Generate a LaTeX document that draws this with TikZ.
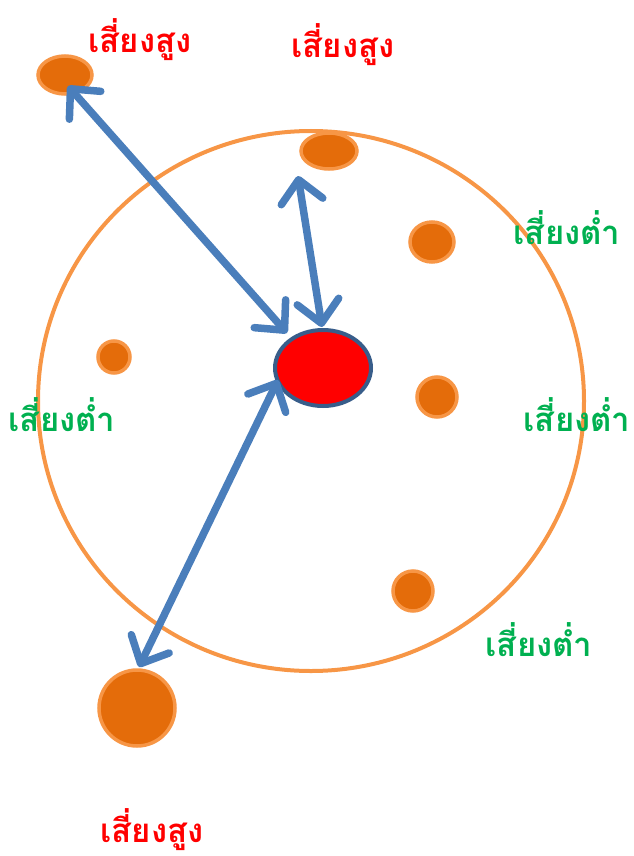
\documentclass[tikz,border=0pt]{standalone}
\usepackage{fontspec}
\newfontfamily\thaifont[Script=Thai]{Loma}
\usetikzlibrary{arrows.meta}
\definecolor{orfill}{HTML}{E46C0A}
\definecolor{orline}{HTML}{F79646}
\definecolor{arblue}{HTML}{4A7EBB}
\definecolor{rdline}{HTML}{385D8A}
\definecolor{txtred}{HTML}{FF0000}
\definecolor{txtgreen}{HTML}{00B050}
\tikzset{
  dot/.style={ellipse, draw=orline, fill=orfill, line width=3.5pt, inner sep=0pt},
  link/.style={draw=arblue, line width=7.5pt, line cap=round,
    {Straight Barb[length=22pt,width=42pt,line cap=round,round]}-{Straight Barb[length=22pt,width=42pt,line cap=round,round]}},
  hi/.style={font=\thaifont\bfseries\fontsize{33}{40}\selectfont, text=txtred, inner sep=0pt},
  lo/.style={font=\thaifont\bfseries\fontsize{33}{40}\selectfont, text=txtgreen, inner sep=0pt},
}
\usetikzlibrary{shapes.geometric}
\begin{document}
\begin{tikzpicture}[x=1pt,y=-1pt]
\useasboundingbox (0,0) rectangle (633,856);
\draw[orline, line width=4pt] (311,401) ellipse [x radius=273, y radius=270];
\node[dot, minimum width=54pt, minimum height=38pt] (d1) at (65,75) {};
\node[dot, minimum width=56pt, minimum height=36pt] (d2) at (329,151) {};
\node[dot, minimum width=44pt, minimum height=40pt] (d3) at (432,242) {};
\node[dot, minimum width=32pt, minimum height=32pt] (d4) at (114,357) {};
\node[dot, minimum width=40pt, minimum height=40pt] (d5) at (437,397) {};
\node[dot, minimum width=40pt, minimum height=40pt] (d6) at (413,591) {};
\node[dot, minimum width=76pt, minimum height=76pt] (d7) at (137,708) {};
\node[ellipse, draw=rdline, fill=red, line width=4pt, minimum width=96pt, minimum height=76pt, inner sep=0pt] (c) at (323,368) {};
\coordinate (a1s) at (68,86);
\coordinate (a1e) at (287,333);
\coordinate (a2s) at (298,176);
\coordinate (a2e) at (322,327);
\coordinate (a3s) at (278,380);
\coordinate (a3e) at (139,667);
\draw[link] (a1s) -- (a1e);
\draw[link] (a2s) -- (a2e);
\draw[link] (a3s) -- (a3e);
\node[hi] (t1) at (140,40) {เสี่ยงสูง};
\node[hi] (t2) at (343,45) {เสี่ยงสูง};
\node[hi] (t3) at (152,830) {เสี่ยงสูง};
\node[lo] (t4) at (567,228) {เสี่ยงต่ำ};
\node[lo] (t5) at (62,415) {เสี่ยงต่ำ};
\node[lo] (t6) at (577,415) {เสี่ยงต่ำ};
\node[lo] (t7) at (539,640) {เสี่ยงต่ำ};
\end{tikzpicture}
\end{document}
